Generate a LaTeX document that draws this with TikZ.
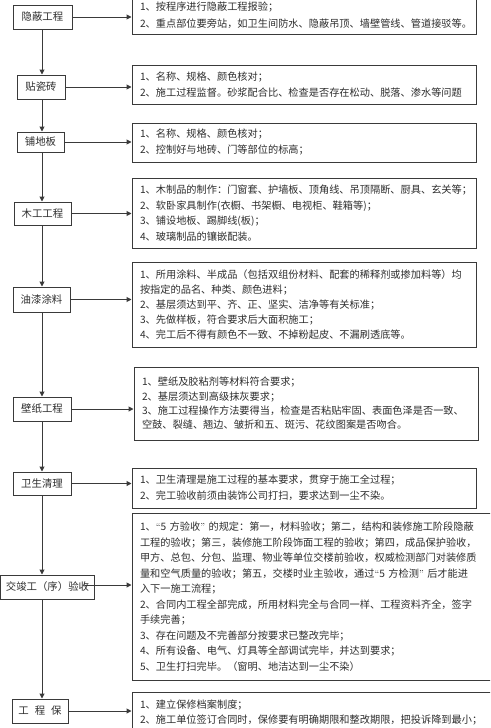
\documentclass[tikz,border=0pt]{standalone}
\usepackage{fontspec}
\newfontfamily\cjk{Noto Sans CJK SC}
\usetikzlibrary{arrows.meta}
\definecolor{ink}{HTML}{2E2E2E}
\definecolor{edge}{HTML}{3A3A3A}
\newcommand\jline[1]{\makebox[\linewidth][s]{\XeTeXlinebreaklocale "zh"\XeTeXlinebreakskip=0pt plus 2pt\relax #1}}
\newcommand\myLq{{\normalfont “}}
\newcommand\myRq{{\normalfont ”}}
\tikzset{
  lbox/.style={draw=edge, line width=1pt, inner sep=0pt, text=ink,
    font=\cjk\fontsize{10.4pt}{12pt}\selectfont},
  rbox/.style={draw=edge, line width=1pt, inner xsep=8pt, inner ysep=0pt, text=ink,
    align=left, font=\cjk\fontsize{10.2pt}{15.5pt}\selectfont},
  conn/.style={draw=edge, line width=1pt, -{Triangle[length=5pt,width=5pt]}}
}
\begin{document}
\begin{tikzpicture}[x=1pt,y=-1pt]
\useasboundingbox (0,0) rectangle (490,728);
\clip (0,0) rectangle (490,728);
\fill[white] (0,0) rectangle (490,728);
\coordinate (spine) at (42,0);
% left boxes
\node[lbox, minimum width=59pt, minimum height=24pt] (L1) at (42.5,17) {隐蔽工程};
\node[lbox, minimum width=48pt, minimum height=24pt] (L2) at (41,87) {贴瓷砖};
\node[lbox, minimum width=47pt, minimum height=20pt] (L3) at (40.5,142) {铺地板};
\node[lbox, minimum width=57pt, minimum height=23pt] (L4) at (42.5,213.5) {木工工程};
\node[lbox, minimum width=57pt, minimum height=25pt] (L5) at (41.5,299.5) {油漆涂料};
\node[lbox, minimum width=58pt, minimum height=24pt] (L6) at (42,409) {壁纸工程};
\node[lbox, minimum width=58pt, minimum height=23pt] (L7) at (42,483.5) {卫生清理};
\node[lbox, minimum width=94pt, minimum height=24pt] (L8) at (47.5,587) {交竣工（序）验收};
\node[lbox, minimum width=56pt, minimum height=24pt] (L9) at (40,711) {工\hspace{6pt}程\hspace{6pt}保};
% right boxes
\node[rbox, text width=328pt, minimum height=38pt, font=\cjk\fontsize{10.2pt}{16.5pt}\selectfont] (R1) at (304,15) {1、按程序进行隐蔽工程报验；\\2、重点部位要旁站，如卫生间防水、隐蔽吊顶、墙壁管线、管道接驳等。};
\node[rbox, text width=328pt, minimum height=39pt, font=\cjk\fontsize{10.2pt}{16pt}\selectfont] (R2) at (304,84.5) {1、名称、规格、颜色核对；\\2、施工过程监督。砂浆配合比、检查是否存在松动、脱落、渗水等问题};
\node[rbox, text width=328pt, minimum height=39pt, font=\cjk\fontsize{10.2pt}{16pt}\selectfont] (R3) at (304,142.5) {1、名称、规格、颜色核对；\\2、控制好与地砖、门等部位的标高；};
\node[rbox, text width=328pt, minimum height=70pt] (R4) at (304,213) {1、木制品的制作：门窗套、护墙板、顶角线、吊顶隔断、厨具、玄关等；\\2、软卧家具制作(衣橱、书架橱、电视柜、鞋箱等)；\\3、铺设地板、踢脚线(板)；\\4、玻璃制品的镶嵌配装。};
\node[rbox, text width=328pt, minimum height=85pt, font=\cjk\fontsize{10.2pt}{15pt}\selectfont] (R5) at (304,304.5) {1、所用涂料、半成品（包括双组份材料、配套的稀释剂或掺加料等）均\\按指定的品名、种类、颜色进料；\\2、基层须达到平、齐、正、坚实、洁净等有关标准；\\3、先做样板，符合要求后大面积施工；\\4、完工后不得有颜色不一致、不掉粉起皮、不漏刷透底等。};
\node[rbox, text width=328pt, minimum height=73pt, font=\cjk\fontsize{10.2pt}{14.3pt}\selectfont] (R6) at (306,403.5) {1、壁纸及胶粘剂等材料符合要求；\\2、基层须达到高级抹灰要求；\\3、施工过程操作方法要得当，检查是否粘贴牢固、表面色泽是否一致、\\空鼓、裂缝、翘边、皱折和五、斑污、花纹图案是否吻合。};
\node[rbox, text width=328pt, minimum height=40pt, font=\cjk\fontsize{10.2pt}{16pt}\selectfont] (R7) at (304,488) {1、卫生清理是施工过程的基本要求，贯穿于施工全过程；\\2、完工验收前须由装饰公司打扫，要求达到一尘不染。};
\node[rbox, text width=348pt, minimum height=167pt] (R8) at (314,596.5) {\jline{1、\myLq 5 方验收\myRq\ 的规定：第一，材料验收；第二，结构和装修施工阶段隐蔽}\\\jline{工程的验收；第三，装修施工阶段饰面工程的验收；第四，成品保护验收，}\\\jline{甲方、总包、分包、监理、物业等单位交楼前验收，权威检测部门对装修质}\\\jline{量和空气质量的验收；第五，交楼时业主验收，通过\myLq 5 方检测\myRq\ 后才能进}\\入下一施工流程；\\\jline{2、合同内工程全部完成，所用材料完全与合同一样、工程资料齐全，签字}\\手续完善；\\3、存在问题及不完善部分按要求已整改完毕；\\4、所有设备、电气、灯具等全部调试完毕，并达到要求；\\5、卫生打扫完毕。（窗明、地洁达到一尘不染）};
\node[rbox, text width=348pt, minimum height=41pt, font=\cjk\fontsize{10.2pt}{15pt}\selectfont] (R9) at (314,712.5) {1、建立保修档案制度；\\2、施工单位签订合同时，保修要有明确期限和整改期限，把投诉降到最小；};
% vertical connectors
\draw[conn] (L1.south -| spine) -- (L2.north -| spine);
\draw[conn] (L2.south -| spine) -- (L3.north -| spine);
\draw[conn] (L3.south -| spine) -- (L4.north -| spine);
\draw[conn] (L4.south -| spine) -- (L5.north -| spine);
\draw[conn] (L5.south -| spine) -- (L6.north -| spine);
\draw[conn] (L6.south -| spine) -- (L7.north -| spine);
\draw[conn] (L7.south -| spine) -- (L8.north -| spine);
\draw[conn] (L8.south -| spine) -- (L9.north -| spine);
% horizontal connectors
\draw[conn] (L1.east) -- (L1.east -| R1.west);
\draw[conn] (L2.east) -- (L2.east -| R2.west);
\draw[conn] (L3.east) -- (L3.east -| R3.west);
\draw[conn] (L4.east) -- (L4.east -| R4.west);
\draw[conn] (L5.east) -- (L5.east -| R5.west);
\draw[conn] (L6.east) -- (L6.east -| R6.west);
\draw[conn] (L7.east) -- (L7.east -| R7.west);
\draw[conn] ([xshift=-10pt,yshift=2pt]L8.east) -- ([yshift=2pt]L8.east -| R8.west);
\draw[conn] (L9.east) -- (L9.east -| R9.west);
\end{tikzpicture}
\end{document}
